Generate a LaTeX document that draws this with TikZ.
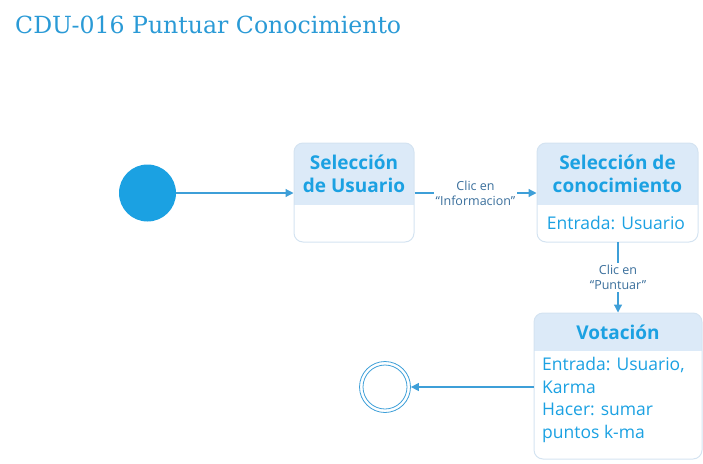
\documentclass[tikz,border=0pt]{standalone}
\usepackage{fontspec}
\setmainfont{Open Sans}
\newfontfamily\titlefont{DejaVu Serif}
\usetikzlibrary{arrows.meta}
\definecolor{mblue}{HTML}{1BA1E2}
\definecolor{titleblue}{HTML}{2A9AD6}
\definecolor{headfill}{HTML}{DCEAF8}
\definecolor{boxline}{HTML}{D4E3F1}
\definecolor{wire}{HTML}{3E9FD8}
\definecolor{lbl}{HTML}{3A6F9C}
\tikzset{
  x=1pt,y=-1pt,
  statebox/.style={draw=boxline, line width=1pt, rounded corners=9pt, inner sep=0pt},
  headtext/.style={text=mblue, font=\fontsize{19}{23}\selectfont\bfseries, align=center, inner sep=0pt},
  bodytext/.style={text=mblue, font=\fontsize{17.5}{22.5}\selectfont, align=left, inner sep=0pt},
  conn/.style={draw=wire, line width=1.2pt, -{Triangle[length=8pt,width=8pt]}},
  trlabel/.style={text=lbl, font=\fontsize{12.5}{15}\selectfont, align=center, fill=white, inner sep=2pt},
}
\newcommand{\mystate}[6]{% name, x1, y1, x2, y2, header bottom
  \begin{scope}
    \clip[rounded corners=9pt] (#2,#3) rectangle (#4,#5);
    \fill[headfill] (#2,#3) rectangle (#4,#6);
  \end{scope}
  \node[statebox, minimum width={#4-#2}, minimum height={#5-#3}] (#1) at ({(#2+#4)/2},{(#3+#5)/2}) {};
}
\begin{document}
\begin{tikzpicture}
\useasboundingbox (0,0) rectangle (703,463);
\node[anchor=base west, inner sep=0pt, text=titleblue, font=\titlefont\fontsize{23.6}{28}\selectfont] (title) at (15,33) {CDU-016 Puntuar Conocimiento};

\node[circle, fill=mblue, minimum size=57pt, inner sep=0pt] (init) at (147.5,193) {};

\mystate{s1}{294}{143}{414}{242}{205}
\node[headtext] (s1h) at (354,174) {Selección\\de Usuario};

\mystate{s2}{537}{143}{698}{242}{205}
\node[headtext] (s2h) at (617.5,174) {Selección de\\conocimiento};
\node[bodytext] (s2b) at (616,223) {Entrada: Usuario};

\mystate{s3}{534}{313}{702}{459}{351}
\node[headtext] (s3h) at (618,332) {Votación};
\node[bodytext, anchor=north west] (s3b) at (542,357) {Entrada: Usuario,\\Karma\\Hacer: sumar\\puntos k-ma};

\node[circle, draw=wire, line width=0.8pt, minimum size=51pt, inner sep=0pt] (final) at (385,387) {};
\node[circle, draw=wire, line width=0.8pt, minimum size=44pt, inner sep=0pt] (finalin) at (385,387) {};

\draw[conn] (init) -- (s1.west |- init);
\draw[conn] (s1.east |- init) -- node[trlabel] (l1) {Clic en\\“Informacion”} (s2.west |- init);
\coordinate (d1) at (618,242);
\draw[conn] (d1) -- node[trlabel] (l2) {Clic en\\“Puntuar”} (d1 |- s3.north);
\draw[conn] (s3.west |- final) -- (final.east);
\end{tikzpicture}
\end{document}
